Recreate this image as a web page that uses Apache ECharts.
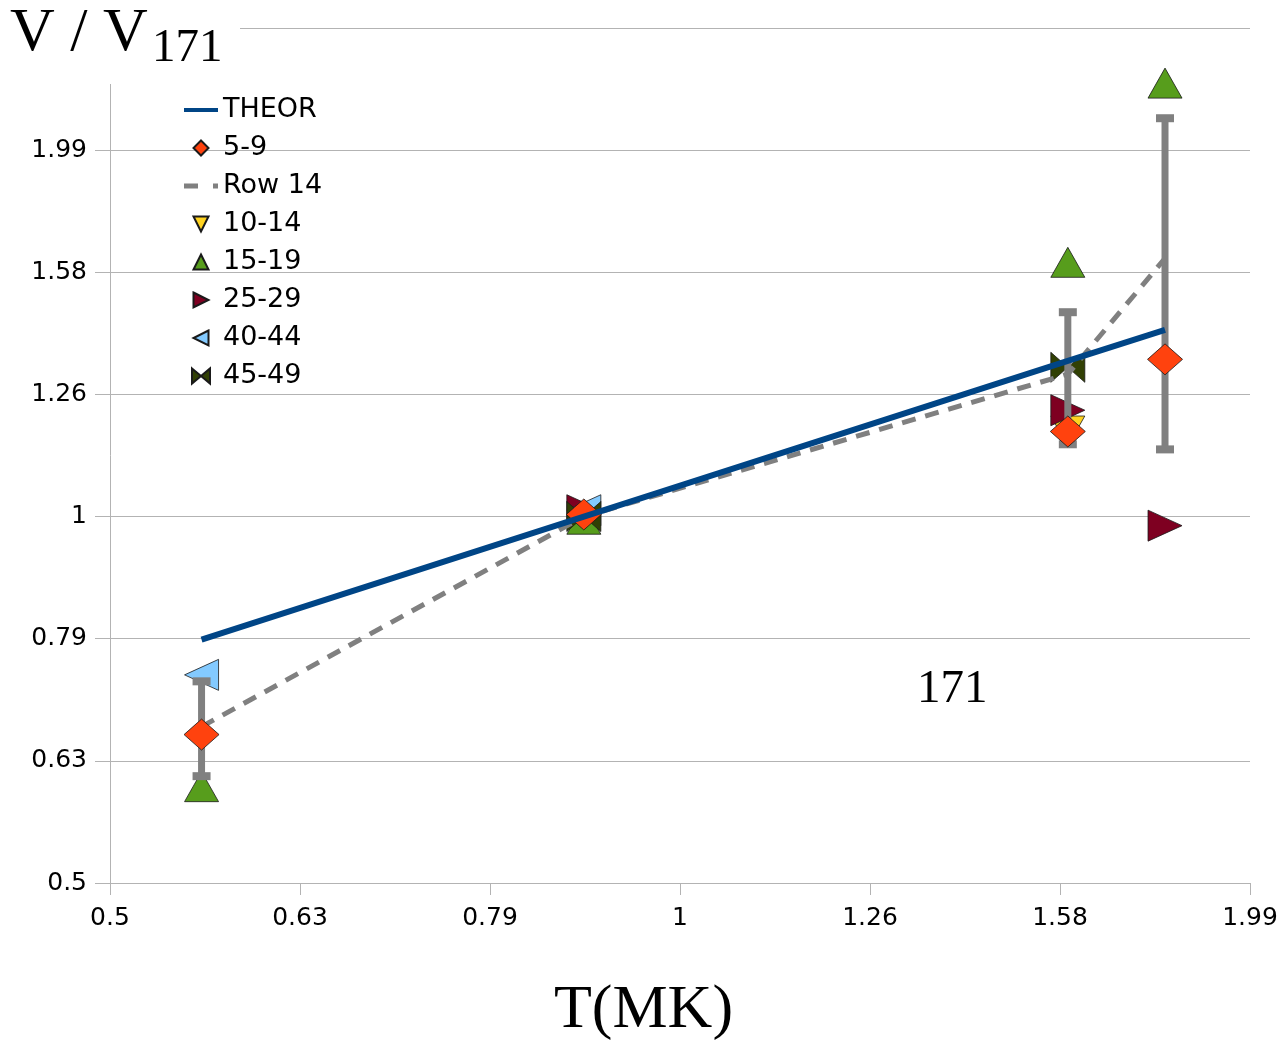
<!DOCTYPE html>
<html><head><meta charset="utf-8">
<script src="https://cdn.jsdelivr.net/npm/echarts@6/dist/echarts.min.js"></script>
<style>html,body{margin:0;padding:0;background:#fff}#c{width:1287px;height:1048px}</style>
</head><body><div id="c"></div>
<script>
// ---- data ----
const temps    = [0.56, 0.89, 1.6, 1.8];          // T(MK)
const theor    = [0.793, 1.0, 1.341, 1.422];
const s5_9     = [0.663, 1.004, 1.174, 1.345];
const row14    = [0.673, 1.0, 1.308, 1.627];
const row14Err = [0.06, 0, 0.162, 0.492];
const s10_14   = [null, 1.0, 1.175, null];
const s15_19   = [0.601, 0.995, 1.615, 2.264];
const s25_29   = [null, 1.012, 1.222, 0.983];
const s40_44   = [0.742, 1.012, null, null];
const s45_49   = [null, 1.0, 1.325, null];
const tickValues = [0.5, 0.63, 0.79, 1, 1.26, 1.58, 1.99];
const tickLabels = ['0.5', '0.63', '0.79', '1', '1.26', '1.58', '1.99'];
const seriesNames = ['THEOR', '5-9', 'Row 14', '10-14', '15-19', '25-29', '40-44', '45-49'];

// ---- build ----
function pairs(vals) {
  const out = [];
  temps.forEach((t, i) => { if (vals[i] != null) out.push([t, vals[i]]); });
  return out;
}
function tickFmt(v) {
  for (let i = 0; i < tickValues.length; i++) {
    if (Math.abs(Math.log(v / tickValues[i])) < 0.03) return tickLabels[i];
  }
  return '';
}
const base = Math.pow(10, 0.1);
const xMin = Math.pow(10, -0.3) * (1 + 1e-9);
const xMax = Math.pow(10, 0.3) * (1 - 1e-9);
const yMin = Math.pow(10, -0.3) * (1 + 1e-9);
const yMax = Math.pow(10, 0.4) * (1 - 1e-9);

const GRID_C = '#b3b3b3';
const SANS = 'DejaVu Sans';
const SERIF = 'Liberation Serif';
const edge = { borderColor: '#1a1a1a', borderWidth: 0.8, opacity: 1 };
const rightTri = 'path://M0,0 L10,5 L0,10 Z';
const leftTri = 'path://M10,0 L0,5 L10,10 Z';
const downTri = 'path://M0,0 L10,0 L5,10 Z';
const upTri = 'path://M5,0 L10,10 L0,10 Z';
const diamond = 'path://M5,0 L10,5 L5,10 L0,5 Z';
const bowtie = 'path://M0,0 L10,5 L20,0 L20,10 L10,5 L0,10 Z';
const bowtieSmall = 'path://M0,0 L6,5 L12,0 L12,10 L6,5 L0,10 Z';
const lineIcon = 'path://M0,0 H34 V4 H0 Z';
const dashIcon = 'path://M0,0 H14 V5 H0 Z M29,0 H34 V5 H29 Z';

const option = {
  animation: false,
  backgroundColor: '#fff',
  title: [
    { text: 'V / V', left: 10, top: 3, padding: 0, z: 8,
      textStyle: { fontFamily: SERIF, fontSize: 62, fontWeight: 'normal', color: '#000' } },
    { text: '171', left: 152, top: 25, padding: 0, z: 8,
      textStyle: { fontFamily: SERIF, fontSize: 47, fontWeight: 'normal', color: '#000' } },
    { text: 'T(MK)', left: 'center', top: 980, padding: 0,
      textStyle: { fontFamily: SERIF, fontSize: 62, fontWeight: 'normal', color: '#000' } },
    { text: '171', left: 917, top: 666, padding: 0,
      textStyle: { fontFamily: SERIF, fontSize: 47, fontWeight: 'normal', color: '#000' } }
  ],
  graphic: [
    { type: 'rect', left: 0, top: 0, z: 5, shape: { width: 240, height: 84 }, style: { fill: '#fff' } }
  ],
  legend: {
    orient: 'vertical', left: 184, top: 96, padding: 0,
    itemWidth: 34, itemHeight: 15, itemGap: 10,
    textStyle: { fontFamily: SANS, fontSize: 27, color: '#000', lineHeight: 28 },
    data: [
      { name: 'THEOR', icon: lineIcon },
      { name: '5-9', icon: diamond },
      { name: 'Row 14', icon: dashIcon },
      { name: '10-14', icon: downTri },
      { name: '15-19', icon: upTri },
      { name: '25-29', icon: rightTri },
      { name: '40-44', icon: leftTri },
      { name: '45-49', icon: bowtieSmall }
    ]
  },
  grid: { left: 110, right: 37, top: 28, bottom: 165 },
  xAxis: {
    type: 'log', logBase: base, min: xMin, max: xMax,
    axisLine: { show: true, lineStyle: { color: GRID_C, width: 1 } },
    axisTick: { show: true, length: 12, lineStyle: { color: GRID_C } },
    splitLine: { show: false },
    minorTick: { show: false },
    axisLabel: { formatter: tickFmt, fontFamily: SANS, fontSize: 25, color: '#000', margin: 23 }
  },
  yAxis: {
    type: 'log', logBase: base, min: yMin, max: yMax,
    axisLine: { show: true, lineStyle: { color: GRID_C, width: 1 } },
    axisTick: { show: true, length: 15, lineStyle: { color: GRID_C } },
    splitLine: { show: true, lineStyle: { color: GRID_C, width: 1 } },
    axisLabel: { formatter: tickFmt, fontFamily: SANS, fontSize: 25, color: '#000', margin: 23 }
  },
  series: [
    { name: 'THEOR', type: 'line', data: pairs(theor), symbol: 'none', z: 7,
      lineStyle: { color: '#004586', width: 6 }, itemStyle: { color: '#004586' } },
    { name: '5-9', type: 'scatter', data: pairs(s5_9), symbol: diamond, symbolSize: [35, 31], z: 6,
      itemStyle: Object.assign({ color: '#ff420e' }, edge) },
    { name: 'Row 14', type: 'line', data: pairs(row14), symbol: 'none', z: 5,
      lineStyle: { color: '#808080', width: 5, type: [14, 10] }, itemStyle: { color: '#808080' } },
    { name: 'errbars', type: 'custom', z: 4, encode: { x: 0, y: 1 },
      data: temps.map((t, i) => [t, row14[i], row14Err[i]]),
      renderItem: function (params, api) {
        const dev = api.value(2);
        if (!dev) return null;
        const x = api.value(0), m = api.value(1);
        const top = api.coord([x, m + dev]);
        const bot = api.coord([x, m - dev]);
        const st = { fill: '#808080' };
        return { type: 'group', children: [
          { type: 'line', shape: { x1: top[0], y1: top[1], x2: bot[0], y2: bot[1] }, style: { stroke: '#808080', lineWidth: 7 } },
          { type: 'rect', shape: { x: top[0] - 9, y: top[1] - 4, width: 18, height: 8 }, style: st },
          { type: 'rect', shape: { x: bot[0] - 9, y: bot[1] - 4, width: 18, height: 8 }, style: st }
        ] };
      } },
    { name: '10-14', type: 'scatter', data: pairs(s10_14), symbol: downTri, symbolSize: [34, 30], z: 3,
      itemStyle: Object.assign({ color: '#ffd320' }, edge) },
    { name: '15-19', type: 'scatter', data: pairs(s15_19), symbol: upTri, symbolSize: [34, 30], z: 3,
      itemStyle: Object.assign({ color: '#579d1c' }, edge) },
    { name: '25-29', type: 'scatter', data: pairs(s25_29), symbol: rightTri, symbolSize: [34, 31], z: 3,
      itemStyle: Object.assign({ color: '#7e0021' }, edge) },
    { name: '40-44', type: 'scatter', data: pairs(s40_44), symbol: leftTri, symbolSize: [34, 31], z: 3,
      itemStyle: Object.assign({ color: '#83caff' }, edge) },
    { name: '45-49', type: 'scatter', data: pairs(s45_49), symbol: bowtie, symbolSize: [34, 30], z: 3,
      itemStyle: Object.assign({ color: '#314004' }, edge) }
  ]
};
const chart = echarts.init(document.getElementById('c'), null, { renderer: 'canvas' });
chart.setOption(option);
</script>
</body></html>
